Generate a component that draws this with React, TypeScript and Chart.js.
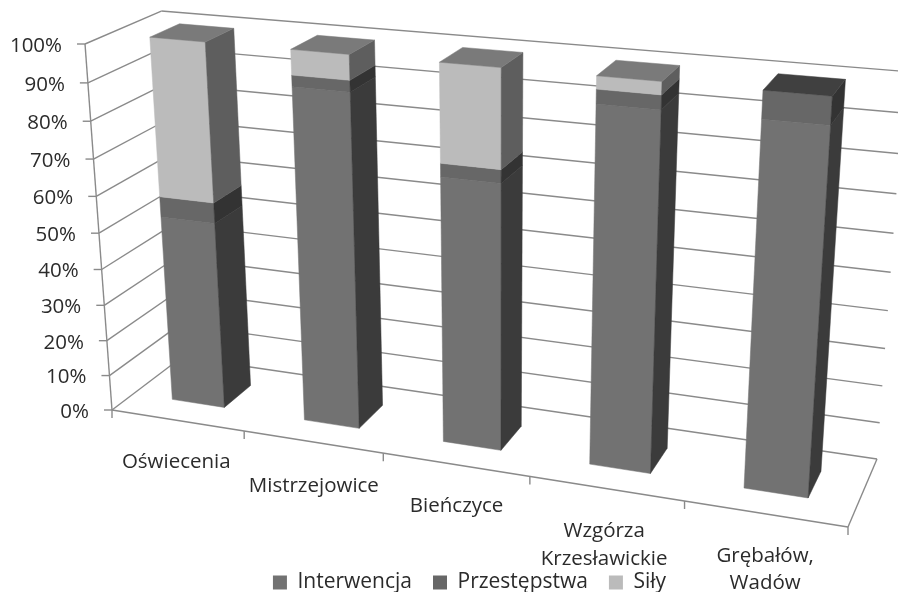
import { useEffect, useRef } from "react";
import { Chart, registerables } from "chart.js";

Chart.register(...registerables);

const categories = ["Oświecenia", "Mistrzejowice", "Bieńczyce", ["Wzgórza", "Krzesławickie"], ["Grębałów,", "Wadów"]];
const interwencja = [52, 90.5, 71.2, 93.2, 93.2];
const przestepstwa = [5.6, 3, 3.5, 3.6, 6.8];
const sily = [42.4, 6.5, 25.3, 3.2, 0];
const valueTicks = [0, 10, 20, 30, 40, 50, 60, 70, 80, 90, 100];

const frontColors = ["#727272", "#676767", "#bbbbbb"];
const sideColors = ["#3b3b3b", "#333333", "#5e5e5e"];
const topColors = ["#4a4a4a", "#404040", "#7a7a7a"];

const FONT = '"Open Sans", sans-serif';
const LINE = "#8a8a8a";
const TEXT = "#2b2b2b";

// Corners of the 3D box on screen.
const A = [112, 410]; // floor, front left
const F = [848, 527]; // floor, front right
const G = [877, 459]; // floor, back right
const D = [182, 357]; // floor, back left
const B = [85, 44]; // top, front left
const VP = [498, 5646]; // vertical vanishing point
const depthFront = 0.3;
const depthBack = 0.7;
const labelNudge = [[-1, 42], [1, 44], [1, 42], [-2, 43], [0, 42]];

type V3 = number[];
// Square-to-quad homography (u, w) → floor, extended by a vertical column.
function buildCamera() {
  const [x0, y0] = A, [x1, y1] = F, [x2, y2] = G, [x3, y3] = D;
  const dx1 = x1 - x2, dx2 = x3 - x2, sx = x0 - x1 + x2 - x3;
  const dy1 = y1 - y2, dy2 = y3 - y2, sy = y0 - y1 + y2 - y3;
  const det = dx1 * dy2 - dx2 * dy1;
  const g = (sx * dy2 - dx2 * sy) / det;
  const h = (dx1 * sy - sx * dy1) / det;
  const pu: V3 = [x1 - x0 + g * x1, y1 - y0 + g * y1, g];
  const pw: V3 = [x3 - x0 + h * x3, y3 - y0 + h * y3, h];
  const p0: V3 = [x0, y0, 1];
  const s = (A[1] - B[1]) / (B[1] - VP[1]);
  const pv: V3 = [s * VP[0], s * VP[1], s];
  return { pu, pw, p0, pv };
}
const cam = buildCamera();
function project(u: number, v: number, w: number): [number, number] {
  const c = (i: number) => cam.pu[i] * u + cam.pv[i] * v + cam.pw[i] * w + cam.p0[i];
  return [c(0) / c(2), c(1) / c(2)];
}

function poly(ctx: CanvasRenderingContext2D, pts: [number, number][], color: string) {
  ctx.beginPath();
  pts.forEach((p, i) => (i ? ctx.lineTo(p[0], p[1]) : ctx.moveTo(p[0], p[1])));
  ctx.closePath();
  ctx.fillStyle = color;
  ctx.fill();
  ctx.strokeStyle = color;
  ctx.lineWidth = 0.5;
  ctx.stroke();
}
function seg(ctx: CanvasRenderingContext2D, a: number[], b: number[]) {
  ctx.beginPath();
  ctx.moveTo(a[0], a[1]);
  ctx.lineTo(b[0], b[1]);
  ctx.stroke();
}

const box3d = {
  id: "box3d",
  beforeDatasetsDraw(chart: any) {
    const { ctx, chartArea: ca, scales } = chart;
    const W = ca.right - ca.left;
    const H = ca.bottom - ca.top;
    const toU = (px: number) => (px - ca.left) / W;
    const toV = (py: number) => (ca.bottom - py) / H;
    ctx.save();
    ctx.strokeStyle = LINE;
    ctx.lineWidth = 1.4;
    // walls
    for (const t of valueTicks) {
      const v = toV(scales.y.getPixelForValue(t));
      seg(ctx, project(0, v, 0), project(0, v, 1));
      seg(ctx, project(0, v, 1), project(1, v, 1));
      const p = project(0, v, 0);
      seg(ctx, p, [p[0] - 8, p[1]]);
    }
    seg(ctx, project(0, 0, 0), project(0, 1, 0));
    seg(ctx, project(0, 0, 0), project(1, 0, 0));
    seg(ctx, project(1, 0, 0), project(1, 0, 1));
    const n = categories.length;
    for (let i = 0; i <= n; i++) {
      const p = project(i / n, 0, 0);
      seg(ctx, p, [p[0], p[1] + 8]);
    }
    // labels
    ctx.fillStyle = TEXT;
    ctx.font = `20.5px ${FONT}`;
    ctx.textAlign = "right";
    ctx.textBaseline = "middle";
    for (const t of valueTicks) {
      const p = project(0, toV(scales.y.getPixelForValue(t)), 0);
      ctx.fillText(`${t}%`, p[0] - 23, p[1] + 2);
    }
    ctx.textAlign = "center";
    categories.forEach((c, i) => {
      const p = project(toU(scales.x.getPixelForValue(i)), 0, 0);
      const lines = Array.isArray(c) ? c : [c];
      lines.forEach((l, k) => ctx.fillText(l, p[0] + labelNudge[i][0], p[1] + labelNudge[i][1] + k * 27.5));
    });
    // bars
    const count = chart.data.datasets.length;
    for (let i = 0; i < n; i++) {
      let topDs = -1;
      for (let d = 0; d < count; d++) if (chart.data.datasets[d].data[i] > 0) topDs = d;
      for (let d = 0; d < count; d++) {
        if (!(chart.data.datasets[d].data[i] > 0)) continue;
        const el = chart.getDatasetMeta(d).data[i];
        const u0 = toU(el.x - el.width / 2), u1 = toU(el.x + el.width / 2);
        const v0 = toV(el.base), v1 = toV(el.y);
        poly(ctx, [project(u0, v0, depthFront), project(u1, v0, depthFront), project(u1, v1, depthFront), project(u0, v1, depthFront)], frontColors[d]);
        poly(ctx, [project(u1, v0, depthFront), project(u1, v0, depthBack), project(u1, v1, depthBack), project(u1, v1, depthFront)], sideColors[d]);
        if (d === topDs) {
          poly(ctx, [project(u0, v1, depthFront), project(u1, v1, depthFront), project(u1, v1, depthBack), project(u0, v1, depthBack)], topColors[d]);
        }
      }
    }
    ctx.restore();
    return false;
  },
};

export default function App() {
  const ref = useRef<HTMLCanvasElement>(null);
  useEffect(() => {
    const chart = new Chart(ref.current!, {
      type: "bar",
      data: {
        labels: categories as any,
        datasets: [
          { label: "Interwencja", data: interwencja, backgroundColor: frontColors[0], borderWidth: 0 },
          { label: "Przestępstwa", data: przestepstwa, backgroundColor: frontColors[1], borderWidth: 0 },
          { label: "Siły", data: sily, backgroundColor: frontColors[2], borderWidth: 0 },
        ],
      },
      options: {
        animation: false,
        responsive: false,
        layout: { padding: { left: 41, bottom: -11 } },
        datasets: { bar: { categoryPercentage: 1, barPercentage: 0.4 } },
        scales: {
          x: { stacked: true, display: false },
          y: { stacked: true, display: false, min: 0, max: 100 },
        },
        plugins: {
          tooltip: { enabled: false },
          legend: {
            position: "bottom",
            fullSize: false,
            labels: { boxWidth: 14, boxHeight: 14, padding: 21, color: TEXT, font: { family: FONT, size: 21 } },
          },
        },
      },
      plugins: [box3d],
    } as any);
    return () => chart.destroy();
  }, []);
  return (
    <div style={{ position: "fixed", left: 0, top: 0, width: 898, height: 592, background: "#fff" }}>
      <canvas ref={ref} width={898} height={592} style={{ display: "block" }} />
    </div>
  );
}
